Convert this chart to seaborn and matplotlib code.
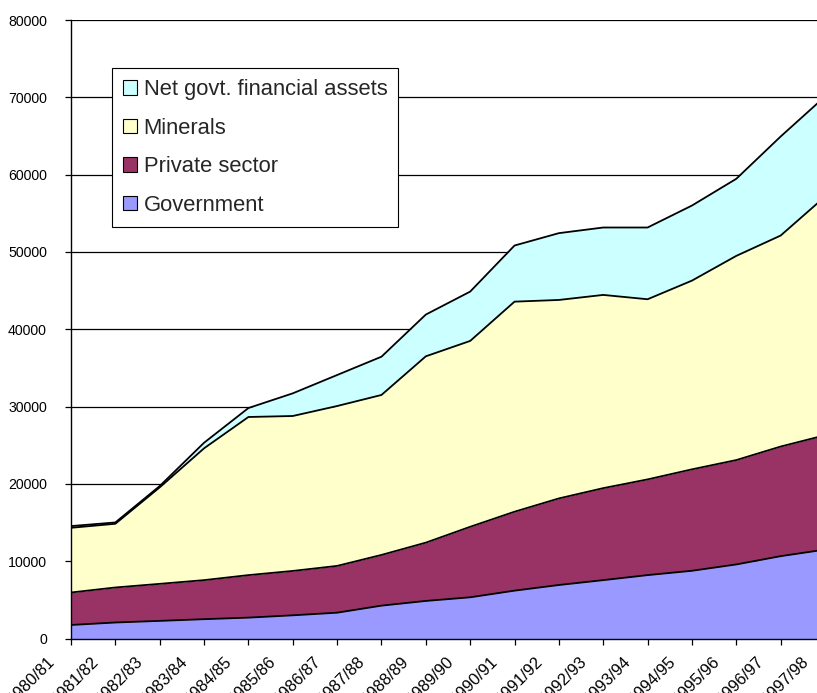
import numpy as np
import pandas as pd
import matplotlib
matplotlib.use("Agg")
import matplotlib.pyplot as plt
import matplotlib.transforms as mtransforms
from matplotlib.patches import Patch
import seaborn as sns

years = ["1980/81", "1981/82", "1982/83", "1983/84", "1984/85", "1985/86",
         "1986/87", "1987/88", "1988/89", "1989/90", "1990/91", "1991/92",
         "1992/93", "1993/94", "1994/95", "1995/96", "1996/97", "1997/98"]
government = [1750, 2070, 2280, 2500, 2700, 3000, 3340, 4250, 4860,
              5330, 6190, 6920, 7550, 8200, 8760, 9580, 10650, 11500]
private_sector = [4200, 4530, 4790, 5050, 5500, 5740, 6050, 6560, 7540,
                  9120, 10210, 11200, 11900, 12380, 13120, 13500, 14180, 14790]
minerals = [8370, 8240, 12480, 17050, 20450, 20040, 20680, 20690, 24100,
            24040, 27170, 25670, 24990, 23300, 24410, 26410, 27290, 30860]
net_govt_assets = [220, 170, 170, 720, 1160, 2930, 4010, 4950, 5400,
                   6380, 7260, 8640, 8720, 9280, 9710, 9970, 12810, 12950]

series_names = ["Government", "Private sector", "Minerals", "Net govt. financial assets"]
colors = ["#9999FF", "#993366", "#FFFFCC", "#CCFFFF"]

df = pd.DataFrame({
    "year": years,
    "x": np.arange(len(years)),
    "Government": government,
    "Private sector": private_sector,
    "Minerals": minerals,
    "Net govt. financial assets": net_govt_assets,
})

sns.set_theme(style="white")
plt.rcParams["font.family"] = ["Liberation Sans", "DejaVu Sans"]

W, H = 817, 693
fig = plt.figure(figsize=(W / 100, H / 100), dpi=100)
left_px, right_px, top_px, bottom_px = 71, 825, 20, 638.5
ax = fig.add_axes([left_px / W, (H - bottom_px) / H,
                   (right_px - left_px) / W, (bottom_px - top_px) / H])

base = np.zeros(len(df))
for name, col in zip(series_names, colors):
    top = base + df[name].to_numpy(dtype=float)
    ax.fill_between(df["x"], base, top, color=col, lw=0, zorder=2)
    sns.lineplot(x=df["x"].to_numpy(), y=top, color="black", lw=1.3,
                 ax=ax, zorder=3, legend=False)
    base = top

ax.set_xlim(0, len(years) - 1)
ax.set_ylim(0, 80000)
ax.set_yticks(np.arange(0, 80001, 10000))
ax.set_yticklabels([str(v) for v in range(0, 80001, 10000)])
ax.set_xticks(df["x"])
ax.set_xticklabels(years, rotation=45, ha="right", va="center",
                   rotation_mode="anchor")
ax.set_xlabel("")
ax.set_ylabel("")

ax.set_axisbelow(True)
ax.yaxis.grid(True, color="black", lw=0.9)
ax.xaxis.grid(False)
for s in ["top", "right"]:
    ax.spines[s].set_visible(False)
for s in ["left", "bottom"]:
    ax.spines[s].set_color("black")
    ax.spines[s].set_linewidth(1.0)
    ax.spines[s].set_zorder(4)

ax.tick_params(axis="both", which="major", direction="out", length=4,
               width=0.9, color="black", labelcolor="black",
               bottom=True, left=True)
ax.tick_params(axis="y", pad=13.4, labelsize=10.2)
ax.tick_params(axis="x", pad=10.5, labelsize=11.8)

offset = mtransforms.ScaledTranslation(-19 / 100, 0, fig.dpi_scale_trans)
for lab in ax.get_xticklabels():
    lab.set_transform(lab.get_transform() + offset)

handles = [Patch(facecolor=c, edgecolor="black", lw=0.8) for c in colors][::-1]
labels = series_names[::-1]
leg = fig.legend(handles, labels, loc="upper left",
                 bbox_to_anchor=(112 / W, 1 - 68 / H),
                 frameon=True, fancybox=False, shadow=False,
                 edgecolor="black", facecolor="white", framealpha=1,
                 fontsize=15.8, handlelength=0.64, handleheight=0.64,
                 handletextpad=0.3, labelspacing=0.8, borderpad=0.5,
                 borderaxespad=0)
leg.get_frame().set_linewidth(0.8)

fig.savefig("out.png", dpi=100)
